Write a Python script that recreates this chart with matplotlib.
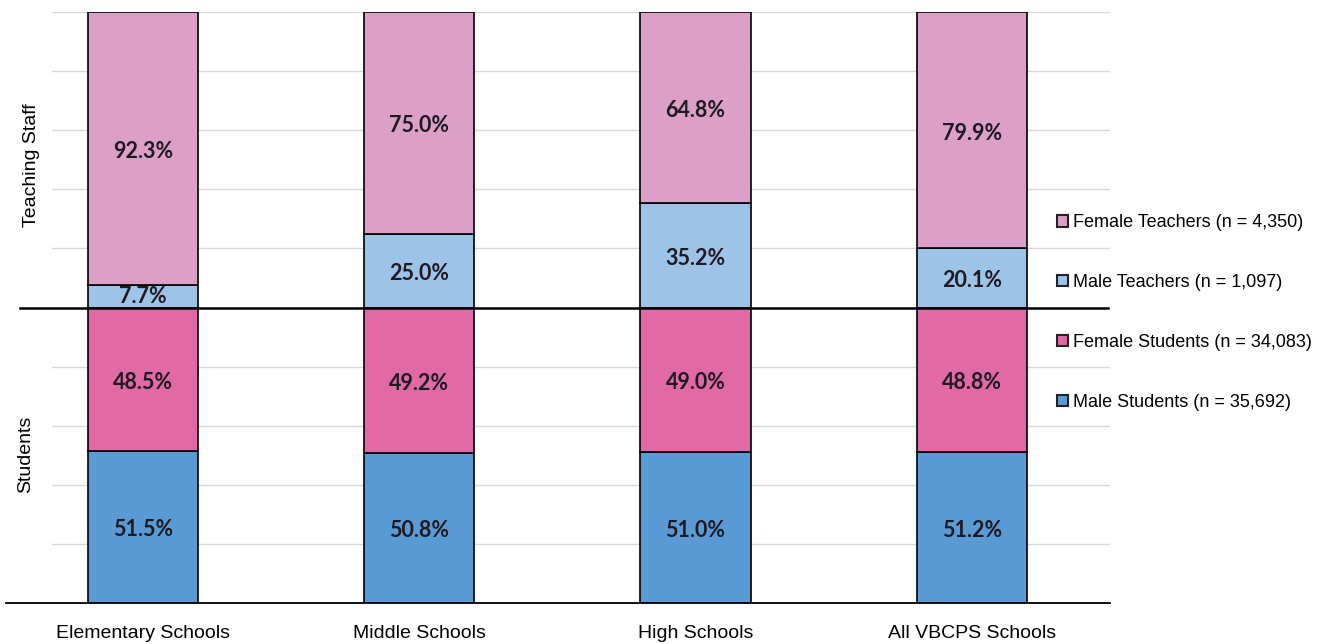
import numpy as np
import matplotlib
matplotlib.use('Agg')
import matplotlib.pyplot as plt
from matplotlib.patches import Patch
from matplotlib.transforms import offset_copy

# data
schools = ['Elementary Schools', 'Middle Schools', 'High Schools', 'All VBCPS Schools']
male_students = [51.5, 50.8, 51.0, 51.2]
female_students = [48.5, 49.2, 49.0, 48.8]
male_teachers = [7.7, 25.0, 35.2, 20.1]
female_teachers = [92.3, 75.0, 64.8, 79.9]
legend_labels = ['Female Teachers (n = 4,350)', 'Male Teachers (n = 1,097)',
                 'Female Students (n = 34,083)', 'Male Students (n = 35,692)']

c_fs = '#E16AA6'
c_ms = '#5B9BD5'
c_ft = '#DB9FC8'
c_mt = '#9DC3E6'
lbl_color = '#1E1A22'

plt.rcParams['font.family'] = ['Liberation Sans', 'DejaVu Sans']

fig = plt.figure(figsize=(13.23, 6.44), dpi=100)
ax = fig.add_axes([52/1323, 1 - 603/644, (1110 - 52)/1323, (603 - 12)/644])

x = np.arange(len(schools))
w = 0.4
ms = np.array(male_students)
fs = np.array(female_students)
mt = np.array(male_teachers)
ft = np.array(female_teachers)

kw = dict(width=w, edgecolor='black', linewidth=1.2, zorder=3)
ax.bar(x, ms, color=c_ms, **kw)
ax.bar(x, fs, bottom=ms, color=c_fs, **kw)
ax.bar(x, mt, bottom=100, color=c_mt, **kw)
ax.bar(x, ft, bottom=100 + mt, color=c_ft, **kw)

# labels sit a few pixels lower than the plain centre, less so in thin segments
low_tr = offset_copy(ax.transData, fig=fig, y=-3, units='dots')
thin_tr = offset_copy(ax.transData, fig=fig, y=-0.5, units='dots')
lfont = dict(family=['Lato', 'DejaVu Sans'], fontsize=15.5, fontweight='bold',
             color=lbl_color, ha='center', va='center', zorder=5)


def seg_label(xi, bottom, h):
    t = thin_tr if h < 10 else low_tr
    ax.text(xi, bottom + h / 2, f'{h:.1f}%', transform=t, **lfont)


for i in range(len(schools)):
    seg_label(x[i], 0, ms[i])
    seg_label(x[i], ms[i], fs[i])
    seg_label(x[i], 100, mt[i])
    seg_label(x[i], 100 + mt[i], ft[i])

ax.set_xlim(-0.329, 3.5)
ax.set_ylim(0, 200)
for yv in range(20, 201, 20):
    if yv != 100:
        ax.axhline(yv, color='#D9D9D9', linewidth=1, zorder=1)

# bottom axis and the split line between students / staff
tr = ax.get_yaxis_transform()
ax.plot([-0.0435, 1.0], [0, 0], transform=tr, color='black', linewidth=1.3,
        clip_on=False, zorder=4)
ax.plot([-0.030, 0.998], [100, 100], transform=tr, color='black', linewidth=1.8,
        clip_on=False, zorder=4)

for s in ax.spines.values():
    s.set_visible(False)
ax.set_yticks([])
ax.set_xticks(x)
ax.set_xticklabels(schools, fontsize=14)
ax.tick_params(axis='x', length=0, pad=16)

fig.text(31/1323, 1 - 165/644, 'Teaching Staff', rotation=90, fontsize=14,
         ha='center', va='center')
fig.text(26/1323, 1 - 454/644, 'Students', rotation=90, fontsize=14,
         ha='center', va='center')

handles = [Patch(facecolor=c, edgecolor='#222222', linewidth=1.5)
           for c in [c_ft, c_mt, c_fs, c_ms]]
fig.legend(handles, legend_labels, loc='center left',
           bbox_to_anchor=(1057/1323, 1 - 312.5/644), frameon=False,
           fontsize=13, handlelength=0.6, handleheight=0.6, handletextpad=0.3,
           labelspacing=2.37, borderpad=0, borderaxespad=0)

fig.savefig('out.png', dpi=100)
